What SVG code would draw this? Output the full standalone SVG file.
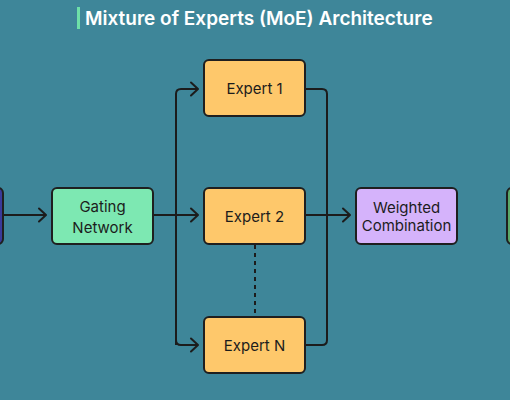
<svg xmlns="http://www.w3.org/2000/svg" width="510" height="400" viewBox="0 0 510 400">
<defs>
<marker id="arr" viewBox="0 0 12 16" refX="10" refY="8" markerWidth="12" markerHeight="16" markerUnits="userSpaceOnUse" orient="auto">
<path d="M3,1.5 L10,8 L3,14.5" fill="none" stroke="#1c1c1c" stroke-width="2" stroke-linecap="round" stroke-linejoin="round"/>
</marker>
<style>
.box{stroke:#1f1f1f;stroke-width:2}
.lbl{font-family:Inter,"Noto Sans",sans-serif;font-size:15px;fill:#1c1c1c;text-anchor:middle}
.ln{fill:none;stroke:#1c1c1c;stroke-width:2}
</style>
</defs>
<rect width="510" height="400" fill="#3e8699"/>
<g id="title">
<rect x="77" y="7" width="3" height="22" fill="#6ee0a8"/>
<text x="85" y="25" font-family="Inter,'Noto Sans',sans-serif" font-size="19" font-weight="600" fill="#ffffff">Mixture of Experts (MoE) Architecture</text>
</g>
<g id="connectors">
<line class="ln" x1="3" y1="215" x2="46" y2="215" marker-end="url(#arr)"/>
<line class="ln" x1="153" y1="215" x2="198" y2="215" marker-end="url(#arr)"/>
<path class="ln" d="M176,345 V94 Q176,89 181,89 H198" marker-end="url(#arr)"/>
<path class="ln" d="M176,340 Q176,345 181,345 H198" marker-end="url(#arr)"/>
<path class="ln" d="M305,89 H322 Q327,89 327,94 V340 Q327,345 322,345 H305"/>
<line class="ln" x1="305" y1="215" x2="350" y2="215" marker-end="url(#arr)"/>
<line class="ln" x1="255" y1="245" x2="255" y2="316" stroke-dasharray="4,4"/>
</g>
<g id="input">
<rect class="box" x="-60" y="188" width="63" height="56" rx="5" fill="#3a3a9a"/>
</g>
<g id="gating">
<rect class="box" x="52" y="188" width="101" height="56" rx="5" fill="#7de8b2"/>
<text class="lbl" x="102.5" y="212">Gating</text>
<text class="lbl" x="102.5" y="233">Network</text>
</g>
<g id="expert1">
<rect class="box" x="204" y="60" width="101" height="56" rx="5" fill="#fec86b"/>
<text class="lbl" x="254.5" y="94">Expert 1</text>
</g>
<g id="expert2">
<rect class="box" x="204" y="188" width="101" height="56" rx="5" fill="#fec86b"/>
<text class="lbl" x="254.5" y="222">Expert 2</text>
</g>
<g id="expertN">
<rect class="box" x="204" y="317" width="101" height="56" rx="5" fill="#fec86b"/>
<text class="lbl" x="254.5" y="351">Expert N</text>
</g>
<g id="combine">
<rect class="box" x="356" y="188" width="101" height="56" rx="5" fill="#d5b3fb"/>
<text class="lbl" x="406.5" y="213">Weighted</text>
<text class="lbl" x="406.5" y="231">Combination</text>
</g>
<g id="output">
<rect class="box" x="507" y="188" width="60" height="56" rx="5" fill="#5aa868"/>
</g>
</svg>
